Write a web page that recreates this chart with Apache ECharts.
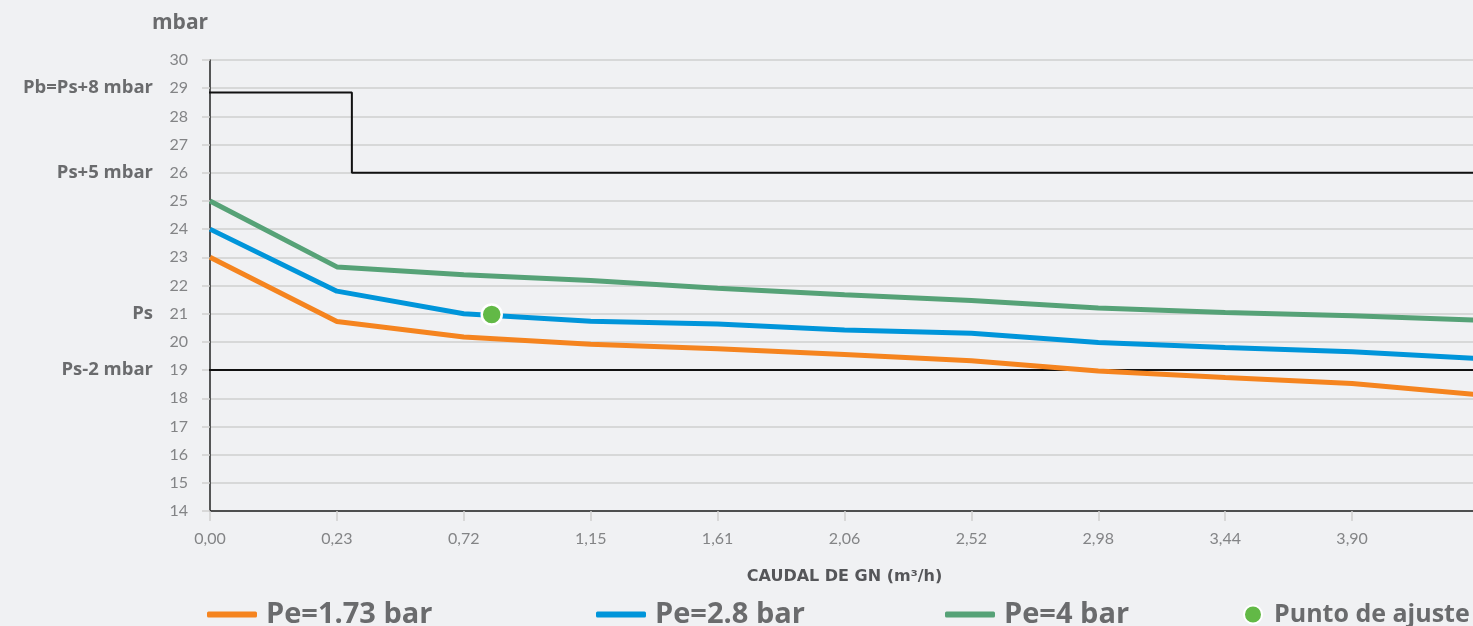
<!DOCTYPE html>
<html>
<head>
<meta charset="utf-8">
<script src="https://cdn.jsdelivr.net/npm/echarts@6/dist/echarts.min.js"></script>
<style>
html,body{margin:0;padding:0;background:#f0f1f3;}
#c{width:1473px;height:626px;}
</style>
</head>
<body>
<div id="c"></div>
<script>
// x categories (caudal, m3/h) – last point lies past the visible edge
var categories = ['0,00','0,23','0,72','1,15','1,61','2,06','2,52','2,98','3,44','3,90',''];
var pe173 = [23.0, 20.72, 20.17, 19.92, 19.76, 19.55, 19.33, 18.97, 18.74, 18.52, 18.12];
var pe28  = [24.0, 21.8, 21.0, 20.73, 20.63, 20.42, 20.31, 19.98, 19.8, 19.65, 19.41];
var pe4   = [25.0, 22.66, 22.38, 22.18, 21.9, 21.67, 21.47, 21.2, 21.04, 20.93, 20.77];
var ajuste = [[2.22, 20.97]];
// reference limits: Pb step line and Ps-2 line
var pbStep = [[-0.066, 28.85], [1.118, 28.85], [1.118, 26], [10, 26]];
var psMinus2 = [[-0.066, 19], [10, 19]];
var levelValues = [29, 26, 21, 19];
var levelLabels = ['Pb=Ps+8 mbar', 'Ps+5 mbar', 'Ps', 'Ps-2 mbar'];
var seriesNames = ['Pe=1.73 bar', 'Pe=2.8 bar', 'Pe=4 bar', 'Punto de ajuste'];

function toPairs(arr){ return arr.map(function(v,i){ return [i, v]; }); }

var FONT = 'Lato, "Noto Sans", sans-serif';
var BFONT = '"Open Sans", Lato, sans-serif';
var chart = echarts.init(document.getElementById('c'));
var legendText = {fontFamily: BFONT, fontSize: 29, fontWeight: 'bold', color: '#6a6b6d', padding: [0,0,0,4]};
chart.setOption({
  backgroundColor: '#f0f1f3',
  animation: false,
  title: {text: 'mbar', left: 147, top: 8, textStyle: {fontFamily: BFONT, fontSize: 21, fontWeight: 'bold', color: '#6a6b6d'}},
  grid: {left: 210, right: -6, top: 60, bottom: 115, containLabel: false, outerBoundsMode: 'none'},
  xAxis: {
    type: 'value', min: 0, max: 10, interval: 1,
    name: 'CAUDAL DE GN (m³/h)', nameLocation: 'middle', nameGap: 58,
    nameTextStyle: {fontFamily: '"DejaVu Sans", sans-serif', fontSize: 16, fontWeight: 'bold', color: '#555659'},
    axisLine: {show: true, onZero: false, lineStyle: {color: '#222', width: 1.5}},
    axisTick: {show: true, length: 10, lineStyle: {color: '#cfcfcf', width: 1.5}},
    axisLabel: {fontFamily: FONT, fontSize: 16, color: '#838486', margin: 20,
      formatter: function(v){ return categories[Math.round(v)] || ''; }},
    splitLine: {show: false}
  },
  yAxis: [{
    type: 'value', min: 14, max: 30, interval: 1,
    axisLine: {show: true, lineStyle: {color: '#222', width: 1.5}},
    axisTick: {show: true, length: 8, lineStyle: {color: '#cfcfcf', width: 1.5}},
    axisLabel: {fontFamily: FONT, fontSize: 16, color: '#838486', margin: 22},
    splitLine: {show: true, lineStyle: {color: '#cfcfcf', width: 1.5}}
  }, {
    type: 'value', min: 14, max: 30, interval: 1, position: 'left', offset: 0,
    axisLine: {show: false}, axisTick: {show: false}, splitLine: {show: false},
    axisLabel: {fontFamily: BFONT, fontSize: 18.5, fontWeight: 'bold', color: '#6a6b6d', margin: 57,
      formatter: function(v){ var i = levelValues.indexOf(Math.round(v)); return i >= 0 ? levelLabels[i] : ''; }}
  }],
  legend: [
    {left: 202, top: 595, itemWidth: 50, itemHeight: 6, textStyle: legendText,
     data: [{name: seriesNames[0], icon: 'roundRect'}]},
    {left: 591, top: 595, itemWidth: 50, itemHeight: 6, textStyle: legendText,
     data: [{name: seriesNames[1], icon: 'roundRect'}]},
    {left: 940, top: 595, itemWidth: 50, itemHeight: 6, textStyle: legendText,
     data: [{name: seriesNames[2], icon: 'roundRect'}]},
    {left: 1238, top: 597, itemWidth: 18, itemHeight: 18,
     textStyle: Object.assign({}, legendText, {fontSize: 25, padding: [0,0,0,7]}),
     data: [{name: seriesNames[3], icon: 'circle'}]}
  ],
  series: [
    {type: 'line', data: pbStep, symbol: 'none', clip: false, silent: true,
     lineStyle: {color: '#111', width: 2}, z: 3},
    {type: 'line', data: psMinus2, symbol: 'none', clip: false, silent: true,
     lineStyle: {color: '#111', width: 2}, z: 3},
    {name: seriesNames[0], type: 'line', data: toPairs(pe173), symbol: 'none',
     itemStyle: {color: '#f5841f'}, lineStyle: {color: '#f5841f', width: 5}, z: 4},
    {name: seriesNames[1], type: 'line', data: toPairs(pe28), symbol: 'none',
     itemStyle: {color: '#0095da'}, lineStyle: {color: '#0095da', width: 5}, z: 4},
    {name: seriesNames[2], type: 'line', data: toPairs(pe4), symbol: 'none',
     itemStyle: {color: '#56a277'}, lineStyle: {color: '#56a277', width: 5}, z: 4},
    {name: seriesNames[3], type: 'scatter', data: ajuste, symbolSize: 20,
     itemStyle: {color: '#62b946', borderColor: '#ffffff', borderWidth: 2.5, opacity: 1}, z: 6}
  ]
});
</script>
</body>
</html>
